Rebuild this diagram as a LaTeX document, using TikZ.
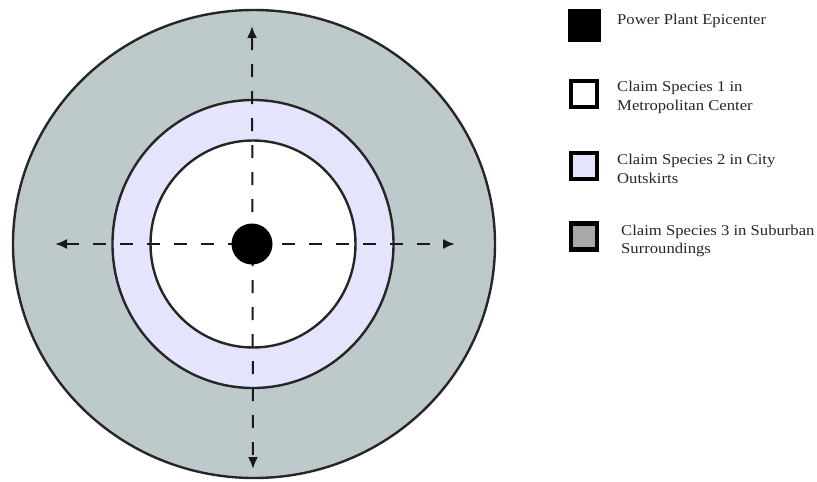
\documentclass[tikz,border=0pt]{standalone}
\usepackage{fontspec}
\setmainfont{Liberation Serif}
\newfontfamily\legfont[FakeStretch=1.11]{Liberation Serif}
\usetikzlibrary{arrows.meta,shapes.geometric}
\definecolor{outerc}{RGB}{190,201,203}
\definecolor{midc}{RGB}{228,229,253}
\definecolor{boxgray}{RGB}{168,168,168}
\tikzset{
  ring/.style={ellipse,draw=black!85,line width=2.4pt,inner sep=0pt},
  axis/.style={line width=2pt,draw=black!90,dash pattern=on 13pt off 14pt,
    {Latex[length=12pt,width=10pt]}-{Latex[length=12pt,width=10pt]}},
  legbox/.style={draw=black,line width=4.5pt,minimum size=26pt,inner sep=0pt},
  legtext/.style={anchor=west,align=left,inner sep=0pt,font=\legfont\fontsize{15}{18.5}\selectfont,text=black!85}
}
\begin{document}
\begin{tikzpicture}[x=1pt,y=-1pt]
\useasboundingbox (0,0) rectangle (817,482);
\node[ring,fill=outerc,minimum width=482pt,minimum height=468pt] (outer) at (254,244) {};
\node[ring,fill=midc,minimum width=281pt,minimum height=288pt] (mid) at (253,244) {};
\node[ring,fill=white,minimum width=205pt,minimum height=207pt] (inner) at (253,244) {};
\coordinate (top) at (252,26);
\coordinate (bot) at (253,469);
\coordinate (lft) at (55,244);
\coordinate (rgt) at (455,244);
\draw[axis] (top) -- (bot);
\draw[axis] (lft) -- (rgt);
\node[circle,fill=black,minimum size=41pt,inner sep=0pt] (dot) at (252,244) {};
% legend
\node[fill=black,minimum size=33pt,inner sep=0pt] (b1) at (584.5,25.5) {};
\node[legbox,fill=white] (b2) at (584,94) {};
\node[legbox,fill=midc] (b3) at (584,166) {};
\node[legbox,fill=boxgray] (b4) at (584,236.5) {};
\node[legtext] (t1) at (617,21) {Power Plant Epicenter};
\node[legtext] (t2) at (617,97.5) {Claim Species 1 in\\Metropolitan Center};
\node[legtext] (t3) at (617,169) {Claim Species 2 in City\\Outskirts};
\node[legtext] (t4) at (621,241) {Claim Species 3 in Suburban\\Surroundings};
\end{tikzpicture}
\end{document}
